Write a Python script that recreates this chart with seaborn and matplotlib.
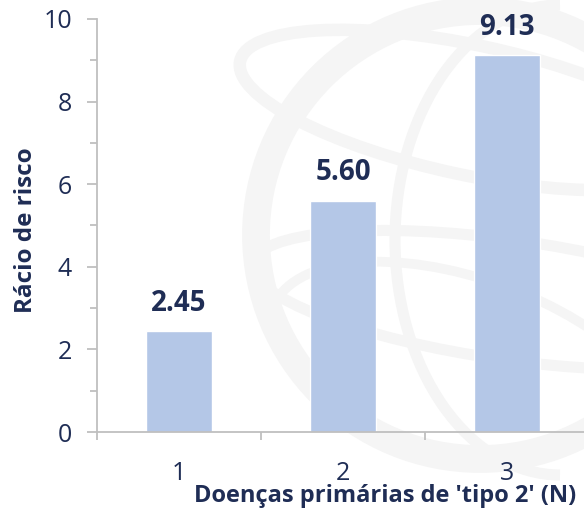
import matplotlib
matplotlib.use("Agg")
import matplotlib.pyplot as plt
import seaborn as sns
import pandas as pd
from matplotlib.patches import Circle, Ellipse, Arc
from matplotlib.ticker import MultipleLocator

categories = ["1", "2", "3"]
risk_ratio = [2.45, 5.60, 9.13]
value_labels = ["2.45", "5.60", "9.13"]

navy = "#1F2D55"
bar_color = "#B4C7E7"
axis_gray = "#BFBFBF"

sns.set_theme(style="white")
plt.rcParams["font.family"] = ["Open Sans", "DejaVu Sans"]

df = pd.DataFrame({"n": categories, "rr": risk_ratio})

fig = plt.figure(figsize=(5.84, 5.26), dpi=100)

# faint globe watermark in the background
bg = fig.add_axes([0, 0, 1, 1], zorder=0)
bg.set_xlim(0, 584)
bg.set_ylim(526, 0)
bg.axis("off")
wm = "#F5F5F5"
bg.add_patch(Circle((480, 235), 224, fill=False, lw=20, ec=wm))
bg.add_patch(Ellipse((470, 110), 470, 130, angle=12, fill=False, lw=9, ec=wm))
bg.add_patch(Ellipse((510, 300), 520, 120, angle=8, fill=False, lw=8, ec=wm))
bg.add_patch(Arc((560, 240), 330, 470, angle=0, theta1=90, theta2=270, lw=8, ec=wm))
bg.add_patch(Arc((470, 380), 420, 200, angle=20, theta1=180, theta2=360, lw=7, ec=wm))

ax = fig.add_axes([97 / 584, (526 - 432) / 526, 492 / 584, 413 / 526], zorder=1)
ax.patch.set_alpha(0)
sns.barplot(data=df, x="n", y="rr", color=bar_color, width=0.4, saturation=1, ax=ax)

ax.set_xlim(-0.5, 2.5)
ax.set_ylim(0, 10)
ax.yaxis.set_major_locator(MultipleLocator(2))
ax.yaxis.set_minor_locator(MultipleLocator(1))
ax.set_xticks([-0.5, 0.5, 1.5, 2.5], minor=True)

for s in ["top", "right"]:
    ax.spines[s].set_visible(False)
for s in ["left", "bottom"]:
    ax.spines[s].set_color(axis_gray)
    ax.spines[s].set_linewidth(1.3)

ax.tick_params(axis="y", which="both", left=True, color=axis_gray, width=1.3,
               labelsize=18, labelcolor=navy, pad=11)
ax.tick_params(axis="y", which="major", length=7)
ax.tick_params(axis="y", which="minor", length=5)
ax.tick_params(axis="x", which="major", bottom=False, labelsize=18, labelcolor=navy, pad=15)
ax.tick_params(axis="x", which="minor", bottom=True, length=6, color=axis_gray, width=1.3)

for i, (v, lab) in enumerate(zip(risk_ratio, value_labels)):
    ax.annotate(lab, (i, v), xytext=(0, 20), textcoords="offset points",
                ha="center", va="center", fontsize=20, fontweight="bold", color=navy)

ax.set_xlabel("Doenças primárias de 'tipo 2' (N)", fontsize=17, fontweight="bold", color=navy)
ax.set_ylabel("Rácio de risco", fontsize=17.5, fontweight="bold", color=navy)
ax.xaxis.set_label_coords((385 - 97) / 492, (432 - 496) / 413)
ax.xaxis.label.set_va("center")
ax.yaxis.set_label_coords((26 - 97) / 492, (432 - 230) / 413)
ax.yaxis.label.set_va("center")

fig.savefig("out.png", dpi=100)
